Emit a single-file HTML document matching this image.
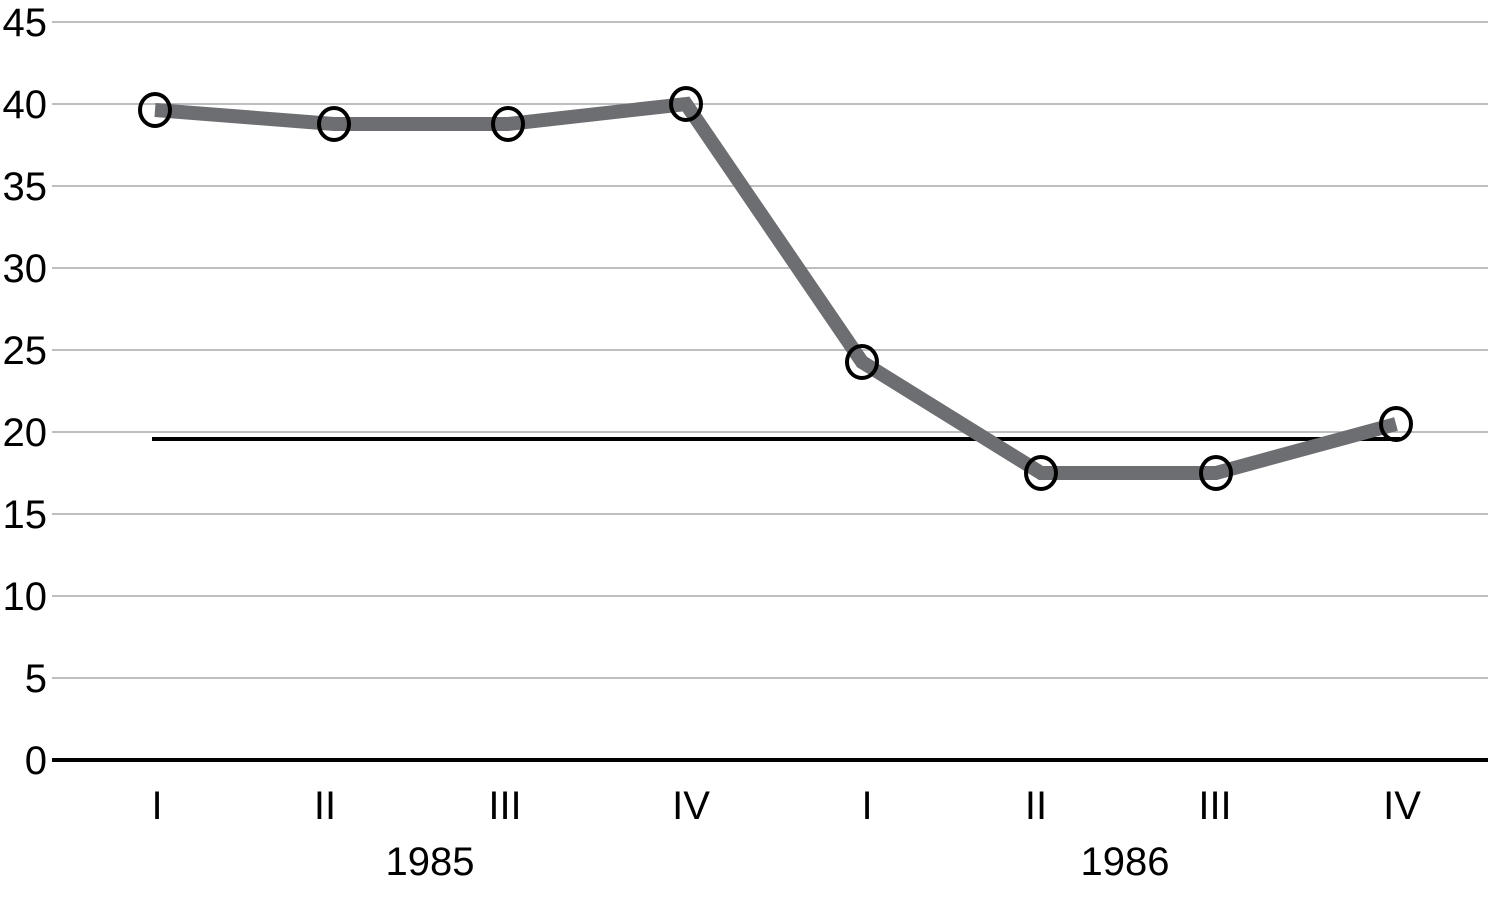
<!DOCTYPE html>
<html><head><meta charset="utf-8"><style>html,body{margin:0;padding:0;background:#fff}</style></head>
<body>
<svg width="1512" height="896" xmlns="http://www.w3.org/2000/svg" font-family="Liberation Sans, sans-serif">
<g stroke="#a7a9ac" stroke-width="1.5">
<line x1="52" y1="22" x2="1488" y2="22"/><line x1="52" y1="104" x2="1488" y2="104"/>
<line x1="52" y1="186" x2="1488" y2="186"/><line x1="52" y1="268" x2="1488" y2="268"/>
<line x1="52" y1="350" x2="1488" y2="350"/><line x1="52" y1="432" x2="1488" y2="432"/>
<line x1="52" y1="514" x2="1488" y2="514"/><line x1="52" y1="596" x2="1488" y2="596"/>
<line x1="52" y1="678" x2="1488" y2="678"/>
</g>
<line x1="52" y1="760" x2="1488" y2="760" stroke="#000" stroke-width="4"/>
<g font-size="40" text-anchor="end" fill="#000">
<text x="47" y="36">45</text><text x="47" y="118">40</text><text x="47" y="200">35</text>
<text x="47" y="282">30</text><text x="47" y="364">25</text><text x="47" y="446">20</text>
<text x="47" y="528">15</text><text x="47" y="610">10</text><text x="47" y="692">5</text>
<text x="47" y="774">0</text>
</g>
<line x1="152" y1="439" x2="1400" y2="439" stroke="#000" stroke-width="4"/>
<polyline points="155,110 334,124 508,124 686,104 862,362 1041,473 1216,473 1396,424" fill="none" stroke="#6d6e71" stroke-width="14" stroke-linejoin="miter"/>
<g fill="none" stroke="#000" stroke-width="4">
<ellipse cx="155" cy="110" rx="15" ry="16"/><ellipse cx="334" cy="124" rx="15" ry="16"/>
<ellipse cx="508" cy="124" rx="15" ry="16"/><ellipse cx="686" cy="104" rx="15" ry="16"/>
<ellipse cx="862" cy="362" rx="15" ry="16"/><ellipse cx="1041" cy="473" rx="15" ry="16"/>
<ellipse cx="1216" cy="473" rx="15" ry="16"/><ellipse cx="1396" cy="424" rx="15" ry="16"/>
</g>
<g font-size="40" text-anchor="middle" fill="#000">
<text x="157" y="819">I</text><text x="325" y="819">II</text><text x="505" y="819">III</text><text x="691" y="819">IV</text>
<text x="867" y="819">I</text><text x="1036" y="819">II</text><text x="1215" y="819">III</text><text x="1402" y="819">IV</text>
<text x="430" y="875">1985</text><text x="1125" y="875">1986</text>
</g>
</svg>
</body></html>
